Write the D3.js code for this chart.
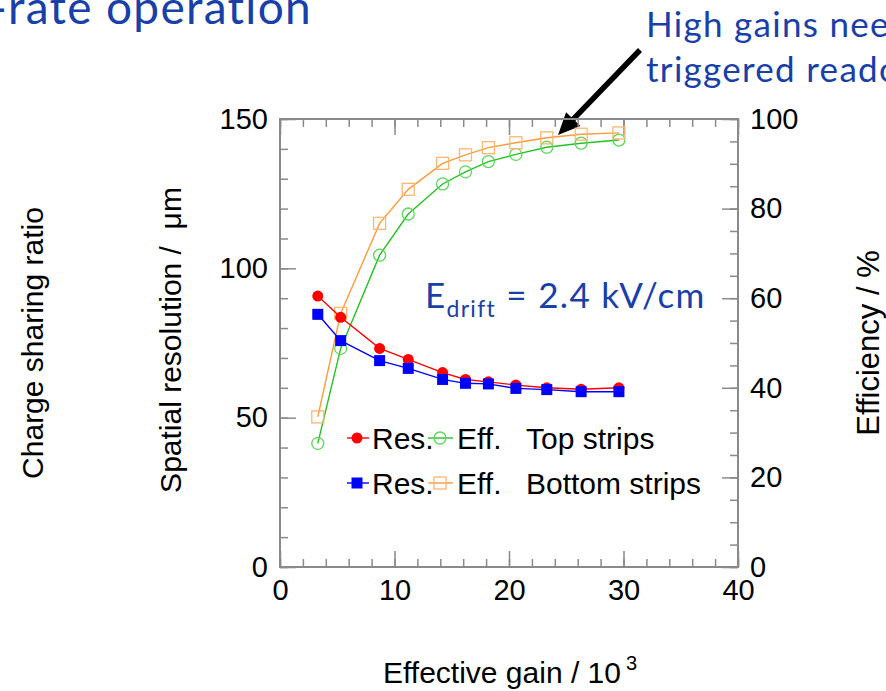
<!DOCTYPE html>
<html>
<head>
<meta charset="utf-8">
<script src="https://cdn.jsdelivr.net/npm/d3@7"></script>
<style>
  html, body { margin: 0; padding: 0; background: #fff; overflow: hidden; }
  svg { display: block; }
  .tick line { stroke: #8a8a8a; stroke-width: 1.5; }
  .tick text { font-family: "Liberation Sans", Arial, sans-serif; font-size: 29px; fill: #000; }
</style>
</head>
<body>
<svg id="chart" width="886" height="691"></svg>
<script>
// Effective gain (x 10^3) of each measurement
const gain = [3.3, 5.3, 8.7, 11.2, 14.2, 16.2, 18.2, 20.6, 23.3, 26.3, 29.6];
// Spatial resolution in micrometres
const resTop    = [90.7, 83.6, 73.2, 69.5, 65.1, 62.8, 62.0, 60.9, 60.0, 59.5, 60.0];
const resBottom = [84.6, 75.8, 69.1, 66.5, 62.8, 61.5, 61.3, 59.8, 59.4, 58.7, 58.7];
// Detection efficiency in percent
const effTop    = [27.6, 48.8, 69.6, 78.8, 85.5, 88.2, 90.5, 92.1, 93.7, 94.6, 95.3];
const effBottom = [33.5, 56.6, 76.7, 84.3, 90.1, 92.0, 93.6, 94.7, 95.8, 96.6, 96.9];

// Axis ticks
const xMajor = [0, 10, 20, 30, 40];
const xMinor = d3.range(0, 41, 2);
const resMajor = [0, 50, 100, 150];
const resMinor = d3.range(0, 151, 10);
const effMajor = [0, 20, 40, 60, 80, 100];
const effMinor = d3.range(0, 101, 5);

const svg = d3.select("#chart");
const plotL = 280, plotR = 738, plotT = 119, plotB = 567;
const plotMidY = (plotT + plotB) / 2;

const x = d3.scaleLinear().domain([0, 40]).range([plotL, plotR]);
const yRes = d3.scaleLinear().domain([0, 150]).range([plotB, plotT]);
const yEff = d3.scaleLinear().domain([0, 100]).range([plotB, plotT]);

const BLUE_TEXT = "#1840a8";
const SANS = '"Liberation Sans", Arial, sans-serif';
const SLIDE = 'Lato, "Open Sans", sans-serif';
const SLIDE_SPACING = "1.3px";

// Slide heading and annotation
svg.append("text")
  .attr("x", 312).attr("y", 24)
  .attr("text-anchor", "end")
  .attr("font-family", SLIDE).attr("font-size", 46)
  .attr("letter-spacing", SLIDE_SPACING)
  .attr("fill", BLUE_TEXT)
  .text("High-rate operation");

const note = svg.append("text")
  .attr("font-family", SLIDE).attr("font-size", 35)
  .attr("letter-spacing", SLIDE_SPACING)
  .attr("fill", BLUE_TEXT);
note.append("tspan").attr("x", 646).attr("y", 37).text("High gains need");
note.append("tspan").attr("x", 646).attr("y", 82).text("triggered readout");

// Arrow pointing at the efficiency plateau
(function () {
  const x0 = 640, y0 = 50, x1 = 558, y1 = 135;
  const dx = x1 - x0, dy = y1 - y0, len = Math.hypot(dx, dy);
  const ux = dx / len, uy = dy / len;
  const head = 22, half = 10;
  const bx = x1 - head * ux, by = y1 - head * uy;
  svg.append("line")
    .attr("x1", x0).attr("y1", y0).attr("x2", bx + 2 * ux).attr("y2", by + 2 * uy)
    .attr("stroke", "#000").attr("stroke-width", 5.5);
  svg.append("polygon")
    .attr("points", [[x1, y1], [bx - half * uy, by + half * ux], [bx + half * uy, by - half * ux]].map(p => p.join(",")).join(" "))
    .attr("fill", "#000");
})();

// Axes: ticks point inward, labels only on major ticks
function axisPair(gen, scale, major, minor, tx, ty, labelled) {
  const g = svg.append("g").attr("transform", `translate(${tx},${ty})`);
  g.append("g").call(gen(scale).tickValues(minor).tickSize(-8).tickFormat(""));
  g.append("g").call(gen(scale).tickValues(major).tickSize(-16).tickPadding(12)
    .tickFormat(labelled ? d3.format("d") : ""));
  g.selectAll(".domain").remove();
  return g;
}
axisPair(d3.axisBottom, x, xMajor, xMinor, 0, plotB, true);
axisPair(d3.axisTop, x, xMajor, xMinor, 0, plotT, false);
axisPair(d3.axisLeft, yRes, resMajor, resMinor, plotL, 0, true);
axisPair(d3.axisRight, yEff, effMajor, effMinor, plotR, 0, true);

svg.append("rect")
  .attr("x", plotL).attr("y", plotT)
  .attr("width", plotR - plotL).attr("height", plotB - plotT)
  .attr("fill", "none").attr("stroke", "#8a8a8a").attr("stroke-width", 2);

// Axis titles, centred on the axis
function vTitle(cx, cy, txt, size) {
  svg.append("text")
    .attr("transform", `translate(${cx},${cy}) rotate(-90)`)
    .attr("text-anchor", "middle").attr("dominant-baseline", "central")
    .attr("font-family", SANS).attr("font-size", size)
    .style("white-space", "pre")
    .text(txt);
}
vTitle(32, plotMidY, "Charge sharing ratio", 30);
vTitle(170, plotMidY - 3, "Spatial resolution /  \u03bcm", 30);
vTitle(868, plotMidY, "Efficiency / %", 31);

const xt = svg.append("text")
  .attr("x", 383).attr("y", 683)
  .attr("font-family", SANS).attr("font-size", 30);
xt.append("tspan").text("Effective gain / 10");
xt.append("tspan").attr("font-size", 20).attr("dx", 5).attr("dy", -13).text("3");

// E-field annotation
const ef = svg.append("text")
  .attr("x", 425).attr("y", 308)
  .attr("font-family", SLIDE).attr("font-size", 35)
  .attr("letter-spacing", SLIDE_SPACING)
  .attr("fill", BLUE_TEXT);
ef.append("tspan").text("E");
ef.append("tspan").attr("font-size", 23).attr("dy", 9).text("drift");
ef.append("tspan").attr("dy", -9).text(" = 2.4 kV/cm");

// Series
const series = [
  { name: "effTop", values: effTop, y: yEff, line: "#22c322", mark: "#5ad85a", shape: "circle", fill: false },
  { name: "effBottom", values: effBottom, y: yEff, line: "#ff9a3a", mark: "#ffb670", shape: "square", fill: false },
  { name: "resTop", values: resTop, y: yRes, line: "#ff0000", mark: "#ff0000", shape: "circle", fill: true },
  { name: "resBottom", values: resBottom, y: yRes, line: "#0000ff", mark: "#0000ff", shape: "square", fill: true }
];

function drawMarker(g, shape, filled, color, cx, cy) {
  if (shape === "circle") {
    g.append("circle").attr("cx", cx).attr("cy", cy).attr("r", filled ? 5.5 : 6)
      .attr("fill", filled ? color : "none").attr("stroke", color).attr("stroke-width", filled ? 0 : 1.3);
  } else {
    const s = filled ? 11 : 12;
    g.append("rect").attr("x", cx - s / 2).attr("y", cy - s / 2).attr("width", s).attr("height", s)
      .attr("fill", filled ? color : "none").attr("stroke", color).attr("stroke-width", filled ? 0 : 1.3);
  }
}

series.forEach(s => {
  const g = svg.append("g").attr("class", s.name);
  const pts = gain.map((gx, i) => [x(gx), s.y(s.values[i])]);
  g.append("path").attr("d", d3.line()(pts))
    .attr("fill", "none").attr("stroke", s.line).attr("stroke-width", 1.4);
  pts.forEach(p => drawMarker(g, s.shape, s.fill, s.mark, p[0], p[1]));
});

// Legend
const legendRows = [
  { res: series[2], eff: series[0], label: "Top strips", y: 438 },
  { res: series[3], eff: series[1], label: "Bottom strips", y: 483 }
];
legendRows.forEach(r => {
  const g = svg.append("g");
  g.append("line").attr("x1", 347).attr("x2", 369).attr("y1", r.y).attr("y2", r.y)
    .attr("stroke", r.res.line).attr("stroke-width", 1.4);
  drawMarker(g, r.res.shape, true, r.res.mark, 357, r.y);
  g.append("line").attr("x1", 428).attr("x2", 453).attr("y1", r.y).attr("y2", r.y)
    .attr("stroke", r.eff.line).attr("stroke-width", 1.4);
  drawMarker(g, r.eff.shape, false, r.eff.mark, 440, r.y);
  const t = g.append("text").attr("y", r.y + 10.5)
    .attr("font-family", SANS).attr("font-size", 30).attr("fill", "#000");
  t.append("tspan").attr("x", 372).text("Res.");
  t.append("tspan").attr("x", 457).text("Eff.");
  t.append("tspan").attr("x", 526).text(r.label);
});
</script>
</body>
</html>
